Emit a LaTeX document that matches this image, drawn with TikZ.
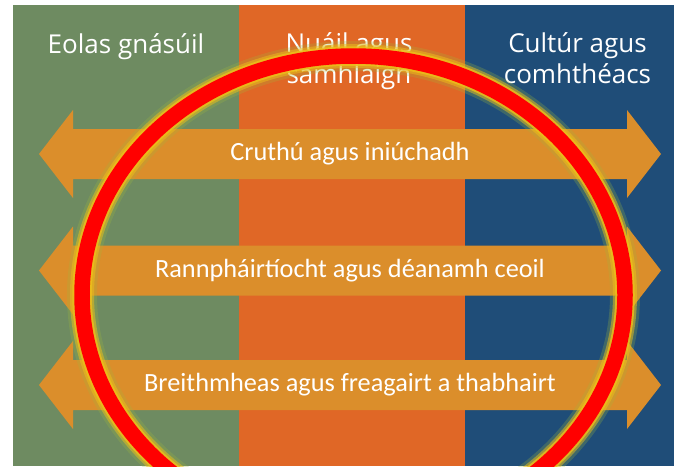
\documentclass[tikz,border=0pt]{standalone}
\usepackage{fontspec}
\setmainfont{Open Sans}
\newfontfamily\bandfont{Carlito}
\usepackage{tikz}
\usetikzlibrary{positioning}
\definecolor{colGreen}{RGB}{110,139,97}
\definecolor{colOrange}{RGB}{224,103,38}
\definecolor{colBlue}{RGB}{31,77,120}
\definecolor{bandOrange}{RGB}{219,142,43}
\definecolor{glowOuter}{RGB}{160,185,60}
\definecolor{glowInner}{RGB}{238,190,25}
\newcommand{\ringpath}{(353.5,295) ellipse [x radius=271.5, y radius=239]}

\begin{document}
\begin{tikzpicture}[x=1pt,y=-1pt,
	head/.style={text=white,font=\fontsize{26}{31}\selectfont,align=center,inner sep=0pt},
	lbl/.style={text=white,font=\bandfont\fontsize{26.3}{30}\selectfont,inner sep=0pt},
	band/.style={fill=bandOrange}]
	\useasboundingbox (0,0) rectangle (674,466);
	\fill[colGreen] (13,5) rectangle (239,466);
	\fill[colOrange] (239,5) rectangle (465,466);
	\fill[colBlue] (465,5) rectangle (674,466);
	\node[head,anchor=base] (eolas) at (126,53) {Eolas gnásúil};
	\node[head,anchor=base] (nuail) at (349,83) {Nuáil agus\\samhlaigh};
	\node[head,anchor=base] (cultur) at (577.5,83) {Cultúr agus\\comhthéacs};
	\foreach \y/\name/\txt in {154/cruthu/{Cruthú agus iniúchadh},
		270.5/rann/{Rannpháirtíocht agus déanamh ceoil},
		385/breith/{Breithmheas agus freagairt a thabhairt}}
	{
		\fill[band] (39,\y) -- (73,\y-44) -- (73,\y-25) -- (627,\y-25) -- (627,\y-44)
			-- (661,\y) -- (627,\y+44) -- (627,\y+25) -- (73,\y+25) -- (73,\y+44) -- cycle;
		\node[lbl] (\name) at (350,\y) {\txt};
	}
	\draw[line width=30pt,glowOuter,opacity=.25] \ringpath;
	\draw[line width=24pt,glowInner,opacity=.5] \ringpath;
	\draw[line width=19.5pt,glowInner,opacity=.8] \ringpath;
	\draw[line width=15.5pt,red] \ringpath;
\end{tikzpicture}
\end{document}
